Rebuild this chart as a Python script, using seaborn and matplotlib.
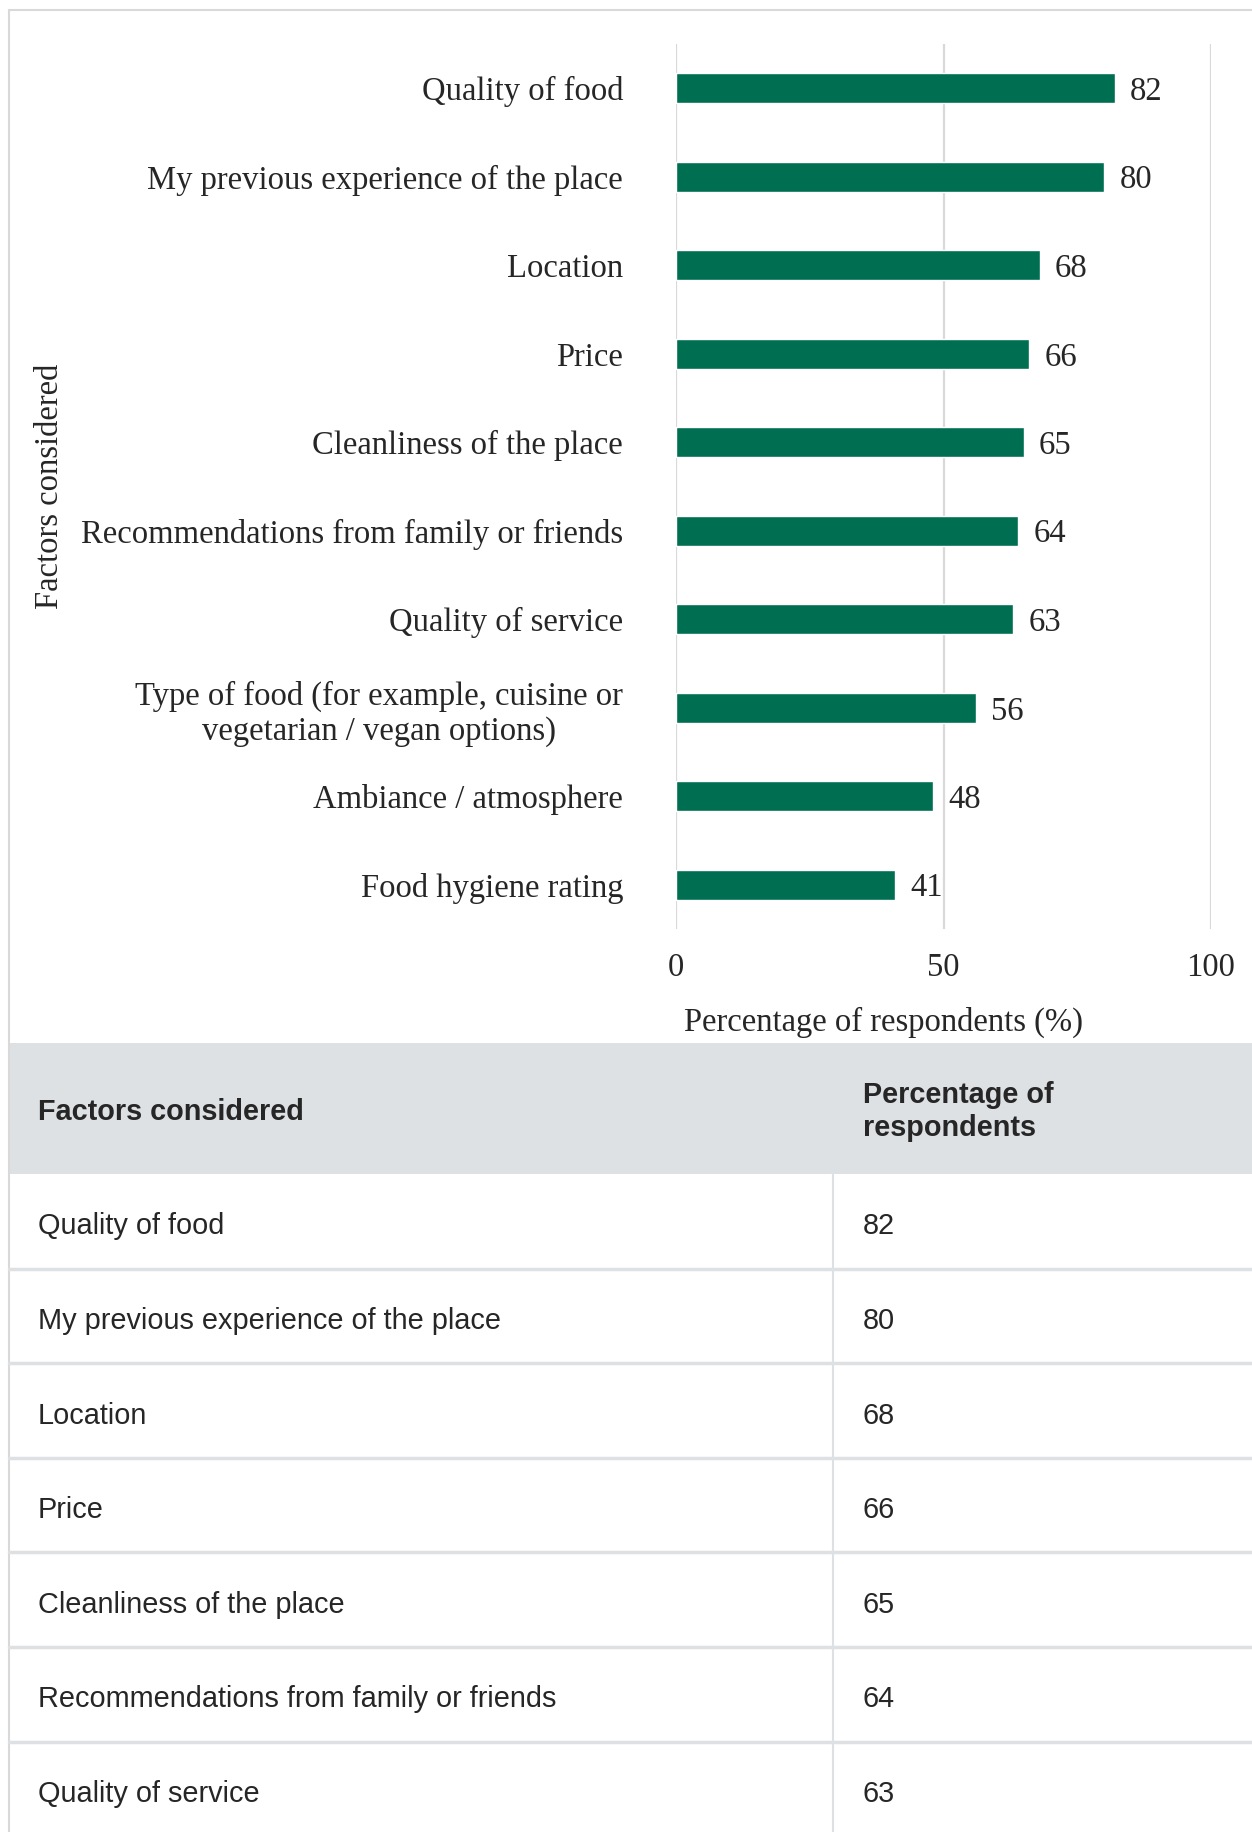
import numpy as np
import pandas as pd
import seaborn as sns
import matplotlib.pyplot as plt
from matplotlib.patches import Rectangle
from matplotlib.lines import Line2D

# data
factors = [
    'Quality of food',
    'My previous experience of the place',
    'Location',
    'Price',
    'Cleanliness of the place',
    'Recommendations from family or friends',
    'Quality of service',
    'Type of food (for example, cuisine or\nvegetarian / vegan options)',
    'Ambiance / atmosphere',
    'Food hygiene rating',
]
percentages = [82, 80, 68, 66, 65, 64, 63, 56, 48, 41]
x_ticks = [0, 50, 100]
table_header = ['Factors considered', 'Percentage of\nrespondents']

W, H = 1252, 1832
GREEN = '#006f51'
GRID = '#d9d9d9'
TABLE_GREY = '#dee1e4'
FS = 23.5

sns.set_style('white')
plt.rcParams['font.family'] = ['Liberation Serif', 'DejaVu Serif']

df = pd.DataFrame({'factor': factors, 'pct': percentages})

fig = plt.figure(figsize=(W / 100, H / 100), dpi=100)

def fx(px):
    return px / W

def fy(py):
    return 1 - py / H

# bar chart
ax = fig.add_axes([fx(676), fy(929), fx(1211) - fx(676), fy(44) - fy(929)])
sns.barplot(data=df, y='factor', x='pct', color=GREEN, width=0.34, ax=ax,
            saturation=1, orient='h')
ax.set_xlim(0, 100)
ax.set_ylim(9.5, -0.5)
ax.set_xticks(x_ticks)
ax.tick_params(axis='x', labelsize=FS, pad=17, length=0)
ax.tick_params(axis='y', labelsize=FS, pad=38, length=0)
for lbl in ax.get_yticklabels():
    lbl.set_multialignment('center')
ax.set_xlabel('')
ax.set_ylabel('')
for s in ax.spines.values():
    s.set_visible(False)
ax.grid(axis='x', color=GRID, linewidth=1.6)
ax.set_axisbelow(True)
for t in ax.bar_label(ax.containers[0], fontsize=FS, padding=11):
    t.set_va('center_baseline')

fig.text(fx(50), fy(486), 'Factors considered', rotation=90, fontsize=FS,
         ha='center', va='center')
fig.text(fx(883), fy(1022), 'Percentage of respondents (%)', fontsize=FS,
         ha='center', va='center')

# outer border
fig.add_artist(Line2D([fx(9), fx(9)], [fy(10), 0], color=GRID, linewidth=1.5))
fig.add_artist(Line2D([fx(9), 1], [fy(10), fy(10)], color=GRID, linewidth=1.5))

# table
sans = ['Liberation Sans', 'DejaVu Sans']
TFS = 20.8
head_top, head_bot = 1043, 1174
row_h = 94.6
fig.add_artist(Rectangle((fx(9), fy(head_bot)), 1 - fx(9), fy(head_top) - fy(head_bot),
                         facecolor=TABLE_GREY, edgecolor='none'))
fig.text(fx(38), fy((head_top + head_bot) / 2 + 3), table_header[0], family=sans,
         fontsize=TFS, fontweight='bold', ha='left', va='center')
fig.text(fx(863), fy((head_top + head_bot) / 2 + 3), table_header[1], family=sans,
         fontsize=TFS, fontweight='bold', ha='left', va='center', linespacing=1.2)
fig.add_artist(Line2D([fx(833), fx(833)], [fy(head_bot), 0], color=TABLE_GREY,
                      linewidth=1.5))
for i, (name, val) in enumerate(zip(factors, percentages)):
    top = head_bot + i * row_h
    mid = top + row_h / 2 + 5
    if top > H:
        break
    fig.text(fx(38), fy(mid), name.replace('\n', ' '), family=sans, fontsize=TFS,
             ha='left', va='center')
    fig.text(fx(863), fy(mid), str(val), family=sans, fontsize=TFS,
             ha='left', va='center')
    fig.add_artist(Line2D([fx(9), 1], [fy(top + row_h), fy(top + row_h)],
                          color=TABLE_GREY, linewidth=2.5))

fig.savefig('out.png', dpi=100, facecolor='white')
